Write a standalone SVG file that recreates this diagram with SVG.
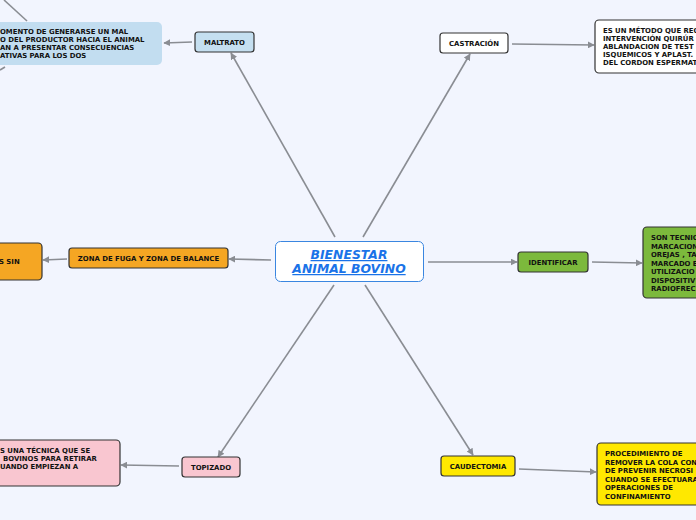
<svg xmlns="http://www.w3.org/2000/svg" width="696" height="520" viewBox="0 0 696 520">
<style>
text{font-family:"DejaVu Sans","Verdana",sans-serif;font-weight:bold;font-size:6.9px;fill:#111}
.c{text-anchor:middle}
.box{stroke:#333;stroke-width:1.2}
.desc{stroke:#333;stroke-width:1.2}
.con line{stroke:#8a8d93;stroke-width:1.6;fill:none}
.main{font-size:12.4px;font-style:italic;fill:#1a73e8;text-decoration:underline;text-anchor:middle}
</style>
<defs>
<marker id="ah" viewBox="0 0 10 10" refX="9" refY="5" markerWidth="7" markerHeight="7" markerUnits="userSpaceOnUse" orient="auto">
<path d="M0,0 L10,5 L0,10 z" fill="#8a8d93"/>
</marker>
</defs>
<rect width="696" height="520" fill="#f2f5fe"/>
<g class="con">
<line x1="335" y1="237" x2="231" y2="53" marker-end="url(#ah)"/>
<line x1="192" y1="42" x2="164" y2="43" marker-end="url(#ah)"/>
<line x1="363" y1="237" x2="470" y2="54" marker-end="url(#ah)"/>
<line x1="512" y1="44" x2="594" y2="45" marker-end="url(#ah)"/>
<line x1="428" y1="262" x2="517" y2="262" marker-end="url(#ah)"/>
<line x1="592" y1="262" x2="642" y2="263" marker-end="url(#ah)"/>
<line x1="271" y1="260" x2="229" y2="259" marker-end="url(#ah)"/>
<line x1="67" y1="259" x2="43" y2="260" marker-end="url(#ah)"/>
<line x1="334" y1="285" x2="218" y2="457" marker-end="url(#ah)"/>
<line x1="179" y1="466" x2="121" y2="465" marker-end="url(#ah)"/>
<line x1="365" y1="285" x2="473" y2="455" marker-end="url(#ah)"/>
<line x1="519" y1="469" x2="596" y2="472" marker-end="url(#ah)"/>
<line x1="4" y1="0" x2="27" y2="21"/>
<line x1="0" y1="70" x2="5" y2="67"/>
</g>
<g id="center">
<rect x="275.5" y="241.5" width="148" height="40" rx="5" fill="#fff" stroke="#3a86e0" stroke-width="1"/>
<text class="main" x="349" y="259">BIENESTAR </text>
<text class="main" x="349" y="273">ANIMAL BOVINO</text>
</g>
<g id="maltrato">
<rect class="box" x="195" y="32" width="59" height="20" rx="3" fill="#c5dff0"/>
<text class="c" x="224.5" y="45">MALTRATO</text>
</g>
<g id="maltrato-desc">
<rect x="-10" y="22" width="172" height="43" rx="5" fill="#c2ddf0"/>
<text x="0" y="34">OMENTO DE GENERARSE UN MAL</text>
<text x="0" y="42">O DEL PRODUCTOR HACIA EL ANIMAL</text>
<text x="0" y="50">AN A PRESENTAR CONSECUENCIAS</text>
<text x="0" y="58">ATIVAS PARA LOS DOS</text>
</g>
<g id="castracion">
<rect class="box" x="440" y="33" width="68" height="20" rx="3" fill="#fff"/>
<text class="c" x="474" y="46">CASTRACIÓN</text>
</g>
<g id="castracion-desc">
<rect class="desc" x="595" y="20" width="110" height="53" rx="4" fill="#fff"/>
<text x="603" y="33">ES UN MÉTODO QUE REQ</text>
<text x="603" y="41">INTERVENCIÓN QUIRÚR</text>
<text x="603" y="49">ABLANDACION DE TEST</text>
<text x="603" y="57">ISQUEMICOS Y APLAST.</text>
<text x="603" y="65">DEL CORDON ESPERMAT</text>
</g>
<g id="identificar">
<rect class="box" x="518" y="252" width="70" height="20" rx="3" fill="#7cb93c"/>
<text class="c" x="553" y="265">IDENTIFICAR</text>
</g>
<g id="identificar-desc">
<rect class="desc" x="643" y="227" width="62" height="71" rx="4" fill="#7cb93c"/>
<text x="651" y="240">SON TECNIC</text>
<text x="651" y="248.5">MARCACION</text>
<text x="651" y="257">OREJAS , TA</text>
<text x="651" y="265.5">MARCADO E</text>
<text x="651" y="274">UTILIZACIO</text>
<text x="651" y="282.5">DISPOSITIV</text>
<text x="651" y="291">RADIOFREC</text>
</g>
<g id="zona">
<rect class="box" x="69" y="248" width="159" height="20" rx="3" fill="#f5a623"/>
<text class="c" x="148.5" y="261">ZONA DE FUGA Y ZONA DE BALANCE</text>
</g>
<g id="zona-desc">
<rect class="desc" x="-10" y="243" width="52" height="37" rx="4" fill="#f5a623"/>
<text x="-1" y="264">S SIN</text>
</g>
<g id="topizado">
<rect class="box" x="182" y="457" width="58" height="20" rx="3" fill="#f9c6d0"/>
<text class="c" x="211" y="470">TOPIZADO</text>
</g>
<g id="topizado-desc">
<rect class="desc" x="-10" y="440" width="130" height="46" rx="4" fill="#f9c6d0"/>
<text x="0" y="453">S UNA TÉCNICA QUE SE</text>
<text x="3" y="461">BOVINOS PARA RETIRAR</text>
<text x="0" y="469">UANDO EMPIEZAN A</text>
</g>
<g id="caudectomia">
<rect class="box" x="441" y="456" width="74" height="20" rx="3" fill="#ffe800"/>
<text class="c" x="478" y="469">CAUDECTOMIA</text>
</g>
<g id="caudectomia-desc">
<rect class="desc" x="597" y="443" width="110" height="62" rx="4" fill="#ffe800"/>
<text x="605" y="456">PROCEDIMIENTO  DE</text>
<text x="605" y="464.5">REMOVER LA COLA CON</text>
<text x="605" y="473">DE PREVENIR NECROSI</text>
<text x="605" y="481.5">CUANDO SE EFECTUARA</text>
<text x="605" y="490">OPERACIONES DE</text>
<text x="605" y="498.5">CONFINAMIENTO</text>
</g>
</svg>
